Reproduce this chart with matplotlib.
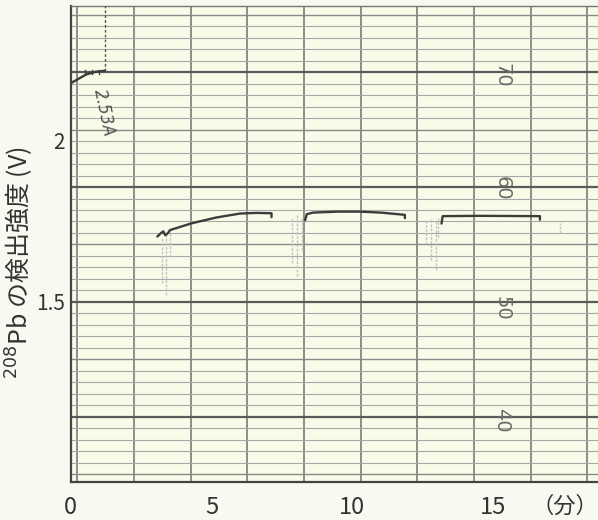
import numpy as np
import matplotlib
matplotlib.use("Agg")
import matplotlib.pyplot as plt

plt.rcParams['font.family'] = ['Noto Sans CJK JP', 'DejaVu Sans']

# ---------------------------------------------------------------- data
# recorder trace, time in minutes, signal in V
seg0_t = [0.0, 0.30, 0.57, 0.90, 1.22]
seg0_v = [2.175, 2.190, 2.203, 2.211, 2.214]
seg1_t = [3.08, 3.20, 3.29, 3.36, 3.45, 3.53, 4.30, 5.18, 6.01, 6.60, 7.13, 7.13]
seg1_v = [1.702, 1.712, 1.718, 1.706, 1.712, 1.722, 1.743, 1.761, 1.773, 1.775, 1.774, 1.762]
seg2_t = [8.32, 8.38, 8.60, 9.50, 10.27, 11.00, 11.86, 11.86]
seg2_v = [1.752, 1.771, 1.776, 1.779, 1.779, 1.776, 1.769, 1.759]
seg3_t = [13.16, 13.20, 14.50, 16.65, 16.65]
seg3_v = [1.742, 1.765, 1.766, 1.765, 1.754]
# pen jump at the start
jump_t = 1.22
jump_v = [2.214, 2.42]
# faint pen noise marks below the trace
noise_t = [3.25, 3.40, 3.52, 7.85, 8.05, 8.20, 12.60, 12.80, 12.95, 13.05, 17.36]
noise_lo = [1.56, 1.52, 1.64, 1.62, 1.58, 1.66, 1.68, 1.63, 1.60, 1.70, 1.713]
noise_hi = [1.70, 1.71, 1.72, 1.76, 1.77, 1.76, 1.75, 1.76, 1.75, 1.76, 1.744]
# chart paper scale
paper_lab = ['70', '60', '50', '40']
paper_lab_v = [2.200, 1.850, 1.480, 1.135]

xticks = [0, 5, 10, 15]
yticks = [1.5, 2.0]
ytick_lab = ['1.5', '2']

# ---------------------------------------------------------------- figure
fig = plt.figure(figsize=(5.98, 5.20), dpi=100, facecolor='#f9f9f2')
ax = fig.add_axes([70.5/598, 38/520, 1 - 70.5/598, 476/520])
ax.set_facecolor('#fafae8')
ax.set_xlim(0, 18.71)
ax.set_ylim(0.944, 2.414)

# paper grid
for x in 0.24 + 2.01*np.arange(0, 10):
    ax.axvline(x, color='#707070', lw=1.1, zorder=1)
for k in range(-15, 26):
    y = 1.5 + k*0.0355
    if k % 10 == 0:
        ax.axhline(y, color='#5a5a5a', lw=1.6, zorder=1)
    elif k % 5 == 0:
        ax.axhline(y, color='#8a8a8a', lw=1.0, zorder=1)
    else:
        ax.axhline(y, color='#a8a8a8', lw=0.8, zorder=1)

for lab, v in zip(paper_lab, paper_lab_v):
    ax.text(15.3, v, lab, rotation=-90, fontsize=14, color='#6a6a6a',
            ha='center', va='center', family=['DejaVu Sans'], zorder=2)

# trace
tr = dict(color='#3c3c3c', lw=1.7, zorder=4, solid_capstyle='round')
ax.plot(seg0_t, seg0_v, **tr)
ax.plot(seg1_t, seg1_v, **tr)
ax.plot(seg2_t, seg2_v, **tr)
ax.plot(seg3_t, seg3_v, **tr)
ax.plot([jump_t, jump_t], jump_v, color='#555555', lw=1.0, ls=(0, (2, 1.5)), zorder=3)
for t in [0.5, 0.75, 1.0]:
    ax.plot([t, t], [2.205, 2.215], color='#444444', lw=1.0, zorder=3)
ax.vlines(noise_t, noise_lo, noise_hi, color='#c4c4c4', lw=1.0, ls=(0, (2, 1)), zorder=3)

ax.text(1.17, 2.085, '2.53A', rotation=-78, fontsize=12, color='#555555',
        ha='center', va='center', style='italic', family=['DejaVu Sans'], zorder=3)

# axes
ax.spines['right'].set_visible(False)
ax.spines['left'].set_color('#444444')
ax.spines['left'].set_linewidth(1.6)
ax.spines['bottom'].set_color('#444444')
ax.spines['bottom'].set_linewidth(1.6)
ax.spines['top'].set_color('#777777')
ax.spines['top'].set_linewidth(1.0)

ax.set_xticks(xticks)
ax.set_xticklabels([str(t) for t in xticks])
ax.set_yticks(yticks)
ax.set_yticklabels(ytick_lab)
ax.tick_params(axis='x', length=0, pad=10, labelsize=17, labelcolor='#333333')
ax.tick_params(axis='y', length=0, pad=4, labelsize=15, labelcolor='#333333')

ax.text(17.52, -0.05, '（分）', transform=ax.get_xaxis_transform(),
        fontsize=16, color='#333333', ha='center', va='center')
ax.set_ylabel('$^{208}$Pb の検出強度 (V)', fontsize=18, color='#333333')
ax.yaxis.set_label_coords(-0.066, 0.46)

fig.savefig('out.png', dpi=100, facecolor=fig.get_facecolor())
